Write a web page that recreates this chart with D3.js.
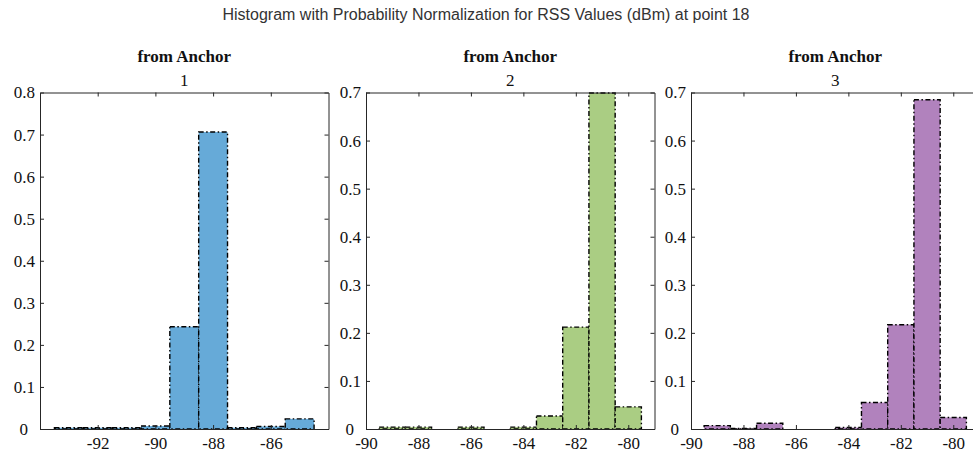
<!DOCTYPE html>
<html>
<head>
<meta charset="utf-8">
<script src="https://cdn.jsdelivr.net/npm/d3@7/dist/d3.min.js"></script>
<style>
  html, body { margin: 0; padding: 0; background: #fff; }
  svg { display: block; }
</style>
</head>
<body>
<svg id="chart" width="973" height="452"></svg>
<script>
// ---- data ----
const mainTitle = "Histogram with Probability Normalization for RSS Values (dBm) at point 18";
const anchors = ["1", "2", "3"];
const colors = ["#66aad8", "#aacd83", "#b182bd"];

const bins1 = [-93, -92, -91, -90, -89, -88, -87, -86, -85];
const probs1 = [0.003, 0.003, 0.003, 0.007, 0.243, 0.706, 0.003, 0.006, 0.024];

const bins2 = [-89, -88, -87, -86, -85, -84, -83, -82, -81, -80];
const probs2 = [0.004, 0.004, 0.0, 0.004, 0.0, 0.004, 0.027, 0.212, 0.699, 0.046];

const bins3 = [-89, -88, -87, -86, -85, -84, -83, -82, -81, -80];
const probs3 = [0.007, 0.001, 0.012, 0.0, 0.0, 0.003, 0.055, 0.217, 0.685, 0.024];

const xDomains = [[-94, -84], [-90, -79], [-90, -79]];
const xTicks1 = [-92, -90, -88, -86];
const xTicks2 = [-90, -88, -86, -84, -82, -80];
const xTicks3 = [-90, -88, -86, -84, -82, -80];
const yMaxes = [0.8, 0.7, 0.7];
const yTicks1 = [0, 0.1, 0.2, 0.3, 0.4, 0.5, 0.6, 0.7, 0.8];
const yTicks2 = [0, 0.1, 0.2, 0.3, 0.4, 0.5, 0.6, 0.7];
const yTicks3 = [0, 0.1, 0.2, 0.3, 0.4, 0.5, 0.6, 0.7];

const panels = [
  { bins: bins1, probs: probs1, xTicks: xTicks1, yTicks: yTicks1 },
  { bins: bins2, probs: probs2, xTicks: xTicks2, yTicks: yTicks2 },
  { bins: bins3, probs: probs3, xTicks: xTicks3, yTicks: yTicks3 }
];

// ---- layout ----
const svg = d3.select("#chart");
const plotLefts = [40, 366, 691];
const plotWidth = 288.5;
const plotTop = 92.5, plotBottom = 429;
const axisColor = "#262626";
const tickFont = "'Liberation Serif', 'DejaVu Serif', serif";

svg.append("text")
  .attr("x", 486).attr("y", 20)
  .attr("text-anchor", "middle")
  .attr("font-family", "'Liberation Sans', Arial, sans-serif")
  .attr("font-size", 16)
  .attr("fill", "#333")
  .text(mainTitle);

const fmt = v => (v === 0 ? "0" : d3.format(".1f")(v));
const fmtX = v => String(v);

panels.forEach((p, i) => {
  const x0 = plotLefts[i], x1 = x0 + plotWidth;
  const x = d3.scaleLinear().domain(xDomains[i]).range([x0, x1]);
  const y = d3.scaleLinear().domain([0, yMaxes[i]]).range([plotBottom, plotTop]);
  const g = svg.append("g");

  // bars
  g.selectAll("rect.bar")
    .data(p.bins.map((b, k) => ({ b, v: p.probs[k] })))
    .enter().append("rect")
    .attr("class", "bar")
    .attr("x", d => x(d.b - 0.5))
    .attr("width", d => x(d.b + 0.5) - x(d.b - 0.5))
    .attr("y", d => y(d.v))
    .attr("height", d => y(0) - y(d.v))
    .attr("fill", colors[i])
    .attr("stroke", "#000")
    .attr("stroke-width", 1.4)
    .attr("stroke-dasharray", "5,2.5,1.5,2.5");

  // axes
  const tk = 4;
  const bottom = g.append("g").attr("transform", `translate(0,${plotBottom})`)
    .call(d3.axisBottom(x).tickValues(p.xTicks).tickSizeInner(-tk).tickSizeOuter(0).tickPadding(8).tickFormat(fmtX));
  const top = g.append("g").attr("transform", `translate(0,${plotTop})`)
    .call(d3.axisTop(x).tickValues(p.xTicks).tickSizeInner(-tk).tickSizeOuter(0).tickFormat(""));
  const left = g.append("g").attr("transform", `translate(${x0},0)`)
    .call(d3.axisLeft(y).tickValues(p.yTicks).tickSizeInner(-tk).tickSizeOuter(0).tickPadding(5).tickFormat(fmt));
  const right = g.append("g").attr("transform", `translate(${x1},0)`)
    .call(d3.axisRight(y).tickValues(p.yTicks).tickSizeInner(-tk).tickSizeOuter(0).tickFormat(""));

  // the "0" label sits a little further left, clear of the x labels
  left.selectAll(".tick text").filter(d => d === 0).attr("x", -12);

  [bottom, top, left, right].forEach(a => {
    a.selectAll("path.domain").attr("stroke", axisColor).attr("stroke-width", 1);
    a.selectAll(".tick line").attr("stroke", axisColor).attr("stroke-width", 1);
    a.selectAll("text").attr("fill", "#111").attr("font-family", tickFont).attr("font-size", 17);
  });

  // subplot titles
  const cx = (x0 + x1) / 2;
  svg.append("text")
    .attr("x", cx).attr("y", 62)
    .attr("text-anchor", "middle")
    .attr("font-family", "'Liberation Serif', 'Times New Roman', serif")
    .attr("font-weight", "bold")
    .attr("font-size", 17)
    .attr("fill", "#111")
    .text("from Anchor");
  svg.append("text")
    .attr("x", cx).attr("y", 86)
    .attr("text-anchor", "middle")
    .attr("font-family", "'Liberation Serif', 'Times New Roman', serif")
    .attr("font-size", 17)
    .attr("fill", "#111")
    .text(anchors[i]);
});
</script>
</body>
</html>
